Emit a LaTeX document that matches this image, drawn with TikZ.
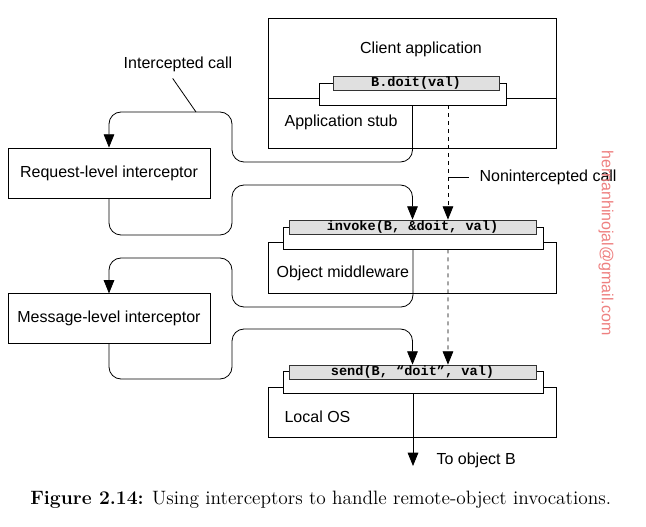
\documentclass[tikz,border=0pt]{standalone}
\usepackage{fontspec}
\setsansfont{Liberation Sans}
\setmonofont{Liberation Mono}
\usetikzlibrary{arrows.meta, positioning}
\definecolor{callgray}{RGB}{224,224,224}
\definecolor{markpink}{RGB}{238,128,128}
\tikzstyle{layer} = [rectangle, draw=black, line width=0.6pt, minimum width=216pt, inner sep=0pt]
\tikzstyle{stub} = [rectangle, draw=black, line width=0.6pt, fill=white, minimum height=16.5pt, inner sep=0pt]
\tikzstyle{callbox} = [rectangle, draw=black!80, line width=0.6pt, fill=callgray, minimum height=10.5pt, inner sep=0pt, font=\fontsize{10.2}{11}\selectfont\ttfamily\bfseries]
\tikzstyle{interceptor} = [rectangle, draw=black, line width=0.6pt, minimum width=151.5pt, minimum height=37.5pt, font=\fontsize{12}{14}\selectfont\sffamily]
\tikzstyle{lbl} = [font=\fontsize{12}{14}\selectfont\sffamily, inner sep=1pt]
\tikzstyle{arrow} = [line width=0.6pt, -{Triangle[length=10pt,width=8pt]}]
\tikzstyle{call} = [arrow, rounded corners=9pt]
\tikzstyle{direct} = [arrow, dash pattern=on 3pt off 3pt]

\begin{document}
\begin{tikzpicture}[x=0.75pt, y=-0.75pt] % pixel grid of the figure
    \useasboundingbox (0,0) rectangle (646,527);

    \node (client) [layer, minimum height=97.5pt] at (412,83) {};
    \draw [line width=0.6pt] (client.west |- 0,98) -- (client.east |- 0,98);
    \node (clientstub) [stub, minimum width=140.25pt] at (412.5,94) {};
    \node (clientcall) [callbox, minimum width=124.5pt] at (416,83) {B.doit(val)};
    \node (clienttxt) [lbl] at (421,49) {Client application};
    \node (stubtxt) [lbl, anchor=west] at (283,122) {Application stub};

    \node (mw) [layer, minimum height=38.25pt] at (412,267.5) {};
    \node (mwstub) [stub, minimum width=195pt] at (413,238) {};
    \node (mwcall) [callbox, minimum width=185.25pt] at (412.5,227) {invoke(B, \&doit, val)};
    \node (mwtxt) [lbl, anchor=west] at (275,273) {Object middleware};

    \node (os) [layer, minimum height=37.5pt] at (412,412) {};
    \node (osstub) [stub, minimum width=195pt] at (413,382.5) {};
    \node (oscall) [callbox, minimum width=185.25pt] at (412.5,372) {send(B, “doit”, val)};
    \node (ostxt) [lbl, anchor=west] at (283,417) {Local OS};

    \node (reqint) [interceptor] at (109,173) {Request-level interceptor};
    \node (msgint) [interceptor, below=71.25pt of reqint] {Message-level interceptor};

    \node (icall) [lbl] at (178,64) {Intercepted call};
    \coordinate (icallend) at (196,112);
    \node (nicall) [lbl, anchor=west] at (478,177) {Nonintercepted call};
    \coordinate (nitick) at (448,177);
    \coordinate (toB) at (413,466);
    \node (tobtxt) [lbl, anchor=west] at (435,460) {To object B};

    % Arrows
    \draw [call] (clientstub.south) -- (412.5,162) -| (232,112) -| (reqint.north);
    \draw [call] (reqint.south) |- (232,235) -- (232,185) -| (mwcall.north);
    \draw [call] (mwstub.south) -- (413,307) -| (232,258) -| (msgint.north);
    \draw [call] (msgint.south) |- (232,379) -- (232,329) -| (oscall.north);
    \draw [direct] ([xshift=26.6pt]clientstub.south) -- ([xshift=26.6pt]mwcall.north);
    \draw [direct] ([xshift=26.25pt]mwstub.south) -- ([xshift=26.6pt]oscall.north);
    \draw [arrow] (osstub.south) -- (toB);
    \draw [line width=0.6pt] ([xshift=-4pt, yshift=-4pt]icall.south) -- (icallend);
    \draw [line width=0.6pt] (nitick) -- ([xshift=-6.75pt]nicall.west);

    \node (mark) [font=\fontsize{12}{14}\selectfont\sffamily, text=markpink, rotate=-90] at (606,243) {hernanhinojal@gmail.com};
    \node (caption) [anchor=west, inner sep=0pt, font=\fontsize{14.5}{16}\selectfont] at (30,500) {\textbf{Figure 2.14:} Using interceptors to handle remote-object invocations.};
\end{tikzpicture}
\end{document}
